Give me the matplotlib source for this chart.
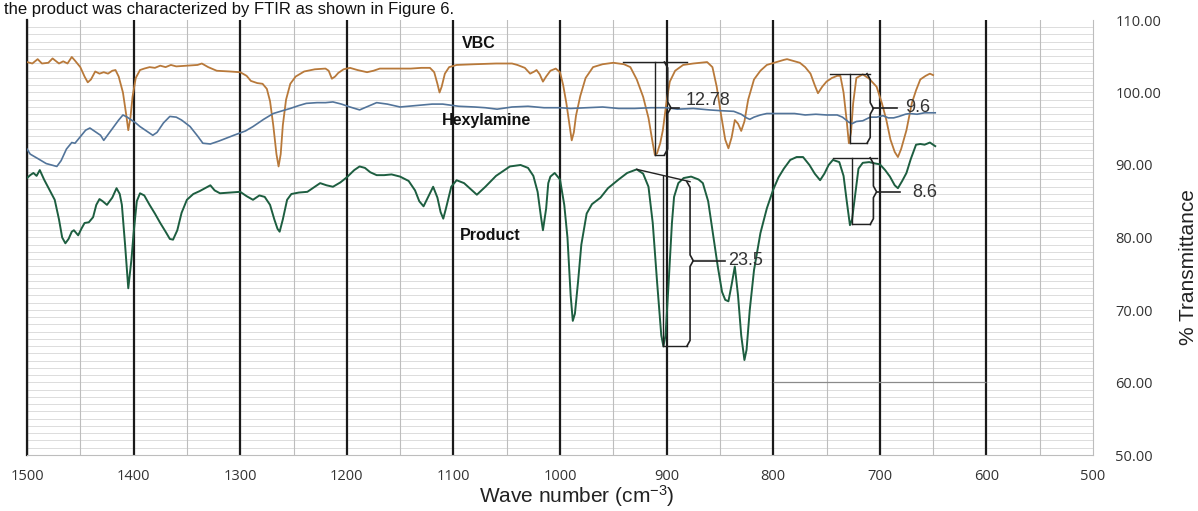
import matplotlib
matplotlib.use("Agg")
import matplotlib.pyplot as plt
import numpy as np

plt.rcParams['font.family'] = ['Liberation Sans', 'DejaVu Sans']
plt.rcParams['mathtext.default'] = 'regular'

#
# DATA
#
vbc_wn = [1500, 1495, 1490, 1486, 1480, 1476, 1470, 1466, 1462, 1458, 1455, 1450, 1446, 1443,
          1440, 1436, 1432, 1428, 1424, 1420, 1417, 1414, 1410, 1407, 1405, 1403, 1401, 1398,
          1394, 1390, 1385, 1380, 1375, 1370, 1365, 1360, 1350, 1340, 1336, 1330, 1322, 1310,
          1300, 1294, 1290, 1284, 1279, 1275, 1272, 1269, 1266, 1264, 1262, 1260, 1257, 1253,
          1248, 1240, 1230, 1220, 1217, 1214, 1211, 1208, 1203, 1197, 1190, 1181, 1175, 1169,
          1160, 1150, 1140, 1130, 1122, 1118, 1115, 1113, 1111, 1108, 1104, 1097, 1080, 1060,
          1045, 1040, 1033, 1028, 1024, 1022, 1019, 1016, 1013, 1009, 1004, 1000, 997, 994,
          991, 989, 987, 985, 981, 976, 969, 960, 950, 940, 934, 928, 922, 917, 913, 911, 909,
          906, 903.5, 900, 897, 892, 884.5, 875, 862, 857, 853, 849, 845, 842, 839, 836, 833,
          830, 827, 823.5, 818, 812, 806, 797, 790, 787, 780, 775, 770, 765, 761, 758, 754,
          750, 745, 740, 737, 734, 731, 729, 727, 725, 722, 716, 710, 703, 698, 694, 690, 686,
          683, 680, 675, 670, 666, 662, 657, 653, 650]
vbc_t = [104.2, 104.0, 104.6, 104.0, 104.1, 104.7, 104.0, 104.3, 104.0, 104.9, 104.4, 103.5, 102.2, 101.4,
         101.8, 102.9, 102.6, 102.8, 102.6, 103.0, 103.1, 102.2, 100.0, 97.0, 94.8, 96.5, 99.4, 102.0,
         103.1, 103.3, 103.5, 103.4, 103.7, 103.5, 103.8, 103.6, 103.7, 103.8, 104.0, 103.5, 103.0, 102.9,
         102.8, 102.3, 101.6, 101.3, 101.2, 100.5, 98.8, 95.5, 91.5, 89.8, 91.5, 95.5, 99.0, 101.2,
         102.2, 102.9, 103.2, 103.3, 103.0, 101.9, 102.2, 102.7, 103.2, 103.4, 103.1, 102.8, 103.0, 103.3,
         103.3, 103.3, 103.3, 103.4, 103.4, 102.8, 101.2, 100.0, 100.8, 102.6, 103.5, 103.8, 103.9, 104.0,
         104.0, 103.8, 103.4, 102.6, 102.9, 103.1, 102.5, 101.5, 102.2, 103.0, 103.3, 102.8, 101.0, 98.5,
         95.5, 93.4, 94.5, 96.8, 99.5, 102.0, 103.5, 103.9, 104.1, 103.9, 103.5, 101.8, 99.4, 96.5, 93.0, 91.4, 91.6,
         93.0, 94.8, 98.8, 101.5, 103.0, 103.8, 104.0, 104.2, 103.5, 100.8, 97.0, 93.5, 92.3, 93.8, 96.2, 95.7,
         94.7, 96.0, 99.0, 101.8, 103.0, 103.8, 104.2, 104.5, 104.6, 104.3, 104.1, 103.5, 102.6, 101.0, 99.9, 100.8,
         101.5, 102.0, 102.3, 102.3, 100.0, 96.0, 93.0, 94.5, 98.5, 102.0, 102.5, 101.9, 100.8, 98.5, 96.3, 93.5, 91.8,
         91.1, 92.2, 94.8, 98.5, 100.3, 101.8, 102.3, 102.6, 102.4]

hex_wn = [1500, 1497, 1490, 1482, 1477, 1472, 1468, 1463, 1458, 1455, 1450, 1445, 1441, 1436,
          1431, 1428, 1424, 1420, 1414, 1410, 1406, 1402, 1398, 1394, 1388, 1382, 1378, 1372,
          1366, 1360, 1355, 1347, 1340, 1335, 1328, 1320, 1306, 1295, 1288, 1278, 1269, 1260,
          1253, 1245, 1238, 1228, 1220, 1213, 1205, 1197, 1188, 1180, 1172, 1162, 1150, 1135,
          1120, 1110, 1095, 1080, 1070, 1059, 1045, 1030, 1015, 1000, 990, 975, 960, 945, 930,
          915, 900, 890, 875, 860, 850, 837, 830, 825, 822, 818, 812, 806, 795, 780, 770, 760,
          750, 740, 735, 729, 726, 722, 716, 709, 703, 697, 692, 687, 682, 676, 672, 665, 658, 648]
hex_t = [92.2, 91.5, 90.9, 90.2, 90.0, 89.8, 90.6, 92.2, 93.1, 93.0, 93.9, 94.8, 95.1, 94.6,
         94.1, 93.4, 94.2, 95.0, 96.2, 96.9, 96.6, 96.2, 95.8, 95.3, 94.7, 94.1, 94.5, 95.8,
         96.7, 96.6, 96.2, 95.3, 94.0, 93.0, 92.9, 93.3, 94.1, 94.7, 95.3, 96.3, 97.1, 97.5,
         97.8, 98.2, 98.5, 98.6, 98.6, 98.7, 98.4, 98.0, 97.6, 98.1, 98.6, 98.4, 98.0, 98.2,
         98.4, 98.4, 98.1, 98.0, 97.9, 97.7, 98.0, 98.1, 97.9, 97.9, 97.8, 97.9, 98.0, 97.8, 97.8,
         97.9, 97.9, 97.7, 97.8, 97.6, 97.5, 97.4, 97.0, 96.5, 96.3, 96.6, 96.9, 97.1, 97.1, 97.1, 96.9, 97.0,
         96.9, 96.9, 96.6, 95.9, 95.7, 96.0, 96.1, 96.6, 96.6, 96.8, 96.5, 96.5, 96.7, 97.0, 97.1, 97.0, 97.2, 97.2]

prod_wn = [1500, 1497, 1494, 1491, 1488, 1484, 1479, 1474, 1470, 1467, 1464, 1461, 1458, 1456,
           1452, 1449, 1446, 1442, 1438, 1435, 1432, 1429, 1425, 1420, 1416, 1413, 1411, 1408,
           1405, 1402, 1400, 1397, 1394, 1390, 1385, 1380, 1375, 1370, 1366, 1363, 1359, 1355,
           1350, 1344, 1338, 1328, 1324, 1319, 1310, 1300, 1294, 1288, 1282, 1277, 1272, 1268,
           1265, 1263, 1260, 1256, 1252, 1245, 1237, 1230, 1225, 1219, 1213, 1206, 1200, 1193,
           1188, 1183, 1178, 1172, 1165, 1158, 1150, 1142, 1136, 1132, 1128, 1124, 1119, 1115,
           1112, 1109.5, 1107, 1102, 1097, 1090, 1084, 1078, 1070, 1060, 1047, 1037, 1030, 1025,
           1021, 1018, 1016, 1013, 1011, 1009, 1005, 1000, 996, 993, 990, 988, 986, 983, 980,
           975, 970, 962, 955, 945, 937, 928, 922, 917, 913, 909, 905, 903, 901, 898, 895, 893,
           889, 884, 877, 870, 866, 861, 856, 852, 848, 845, 842, 839, 836, 833, 830, 827, 825,
           822, 818, 812, 806, 800, 795, 790, 784, 778, 772, 766, 761, 756, 752, 748, 744, 738,
           734, 731, 728, 726, 723, 720, 716, 710, 704, 700, 695, 690.5, 686, 683, 679, 675, 671,
           666, 662, 658, 653, 648]
prod_t = [88.2, 88.6, 88.9, 88.5, 89.3, 88.0, 86.6, 85.2, 82.5, 80.0, 79.2, 79.8, 80.8, 81.0,
          80.3, 81.2, 82.0, 82.1, 82.8, 84.5, 85.3, 85.0, 84.5, 85.5, 86.8, 86.0, 84.5, 79.0,
          73.0, 77.0, 80.6, 85.0, 86.1, 85.8, 84.5, 83.3, 82.0, 80.8, 79.8, 79.7, 81.0, 83.4,
          85.2, 86.0, 86.4, 87.2, 86.5, 86.1, 86.2, 86.3, 85.7, 85.2, 85.8, 85.6, 84.5, 82.5,
          81.2, 80.8, 82.5, 85.2, 86.0, 86.2, 86.3, 87.0, 87.5, 87.2, 87.0, 87.6, 88.3, 89.3,
          89.8, 89.6, 89.0, 88.6, 88.6, 88.7, 88.4, 87.8, 86.5, 85.0, 84.3, 85.5, 87.0, 85.5,
          83.5, 82.6, 84.0, 87.0, 87.9, 87.5, 86.7, 85.9, 87.0, 88.5, 89.8, 90.0, 89.6, 88.5,
          86.3, 83.0, 81.0, 84.0, 87.5, 88.4, 88.9, 88.0, 84.5, 80.0, 72.0, 68.5, 69.5, 74.0, 79.0,
          83.3, 84.6, 85.5, 86.8, 88.0, 88.9, 89.4, 88.8, 87.0, 82.0, 74.0, 66.5, 65.0, 66.5, 74.0, 82.0, 85.6,
          87.5, 88.2, 88.4, 88.0, 87.5, 85.0, 80.0, 76.0, 72.5, 71.4, 71.2, 73.5, 76.0, 72.0, 66.5, 63.1, 64.5,
          70.0, 75.5, 80.6, 84.0, 86.6, 88.3, 89.5, 90.7, 91.1, 91.1, 90.0, 88.8, 87.9, 88.8, 90.0, 90.7, 90.4,
          88.5, 85.0, 81.7, 82.5, 86.0, 89.5, 90.3, 90.4, 90.2, 90.1, 89.3, 88.4, 87.2, 86.8, 87.8, 88.9, 90.8,
          92.8, 92.9, 92.8, 93.1, 92.6]

# peak-depth brackets: label, top line (x0, y0, x1, y1), vertical line x, bottom y,
# brace x, brace tip y, tip end x, text position
ann_labels = ['12.78', '9.6', '8.6', '23.5']
ann_top = [(941, 104.2, 881, 104.2), (747, 102.6, 709, 102.6),
           (744, 91.0, 703, 91.0), (928, 89.4, 878, 87.7)]
ann_vline_x = [911, 728, 726, 903]
ann_bot_y = [91.4, 93.0, 81.8, 65.0]
ann_brace_x = [899, 709, 706, 878]
ann_tip_y = [97.9, 97.8, 86.3, 76.8]
ann_tip_x = [888, 684, 681, 845]
ann_text_xy = [(882, 98.9), (676, 98.0), (670, 86.2), (842, 76.8)]

series_names = ['VBC', 'Hexylamine', 'Product']
series_colors = ['#b8793a', '#52749a', '#1d5e40']
series_label_xy = [(1092, 106.7), (1111, 96.2), (1094, 80.3)]

x_ticks = [1500, 1400, 1300, 1200, 1100, 1000, 900, 800, 700, 600, 500]
y_ticks = [50, 60, 70, 80, 90, 100, 110]


def draw_brace(ax, xb, yt, yb, ytip, w=3.0, d=0.8):
    xs = [xb + w, xb, xb, xb - w, xb, xb, xb + w]
    ys = [yt, yt - d, ytip + d, ytip, ytip - d, yb + d, yb]
    ax.plot(xs, ys, color='#222222', lw=1.2, zorder=4)


fig = plt.figure(figsize=(11.98, 5.11), dpi=100)
ax = fig.add_axes([27 / 1198, 1 - 455 / 511, (1093 - 27) / 1198, (455 - 20) / 511])

# grid
for yv in range(51, 110):
    ax.axhline(yv, color='#dcdcdc', lw=0.7, zorder=0)
for xv in range(550, 1500, 100):
    ax.axvline(xv, color='#bdbdbd', lw=0.8, zorder=0)
for xv in x_ticks[:-1]:
    ax.axvline(xv, color='#1a1a1a', lw=1.6, zorder=1)
ax.hlines(60, 600, 800, color='#8a8a8a', lw=0.9, zorder=1)

ax.plot(vbc_wn, vbc_t, color=series_colors[0], lw=1.3, zorder=3)
ax.plot(hex_wn, hex_t, color=series_colors[1], lw=1.2, zorder=3)
ax.plot(prod_wn, prod_t, color=series_colors[2], lw=1.4, zorder=3)

for name, (tx, ty) in zip(series_names, series_label_xy):
    ax.text(tx, ty, name, fontsize=11.5, fontweight='bold', color='#111111',
            ha='left', va='center', zorder=5)

for i, lab in enumerate(ann_labels):
    x0, y0, x1, y1 = ann_top[i]
    ax.plot([x0, x1], [y0, y1], color='#222222', lw=1.0, zorder=4)
    vx = ann_vline_x[i]
    ytop_v = y0 + (y1 - y0) * (x0 - vx) / (x0 - x1)
    ax.plot([vx, vx], [ytop_v, ann_bot_y[i]], color='#222222', lw=1.0, zorder=4)
    bx = ann_brace_x[i]
    ax.plot([vx, bx + 3.0], [ann_bot_y[i], ann_bot_y[i]], color='#222222', lw=1.0, zorder=4)
    ytop_b = y0 + (y1 - y0) * (x0 - bx) / (x0 - x1)
    draw_brace(ax, bx, ytop_b, ann_bot_y[i], ann_tip_y[i])
    ax.plot([bx - 3.0, ann_tip_x[i]], [ann_tip_y[i], ann_tip_y[i]], color='#222222', lw=1.2, zorder=4)
    ax.text(ann_text_xy[i][0], ann_text_xy[i][1], lab, fontsize=13, color='#333333',
            ha='left', va='center', zorder=5)

ax.set_xlim(1500, 500)
ax.set_ylim(50, 110)
ax.set_xticks(x_ticks)
ax.set_yticks(y_ticks)
ax.set_yticklabels([f"{v:.2f}" for v in y_ticks])
ax.yaxis.tick_right()
ax.tick_params(axis='y', length=0, pad=16, labelsize=10.5, labelcolor='#333333')
ax.tick_params(axis='x', length=0, pad=10, labelsize=10.5, labelcolor='#333333')
for lbl in ax.get_xticklabels() + ax.get_yticklabels():
    lbl.set_family(['Open Sans', 'DejaVu Sans'])

ax.spines['top'].set_visible(False)
ax.spines['left'].set_color('#1a1a1a')
ax.spines['left'].set_linewidth(1.6)
ax.spines['right'].set_color('#bdbdbd')
ax.spines['right'].set_linewidth(0.8)
ax.spines['bottom'].set_color('#bdbdbd')
ax.spines['bottom'].set_linewidth(0.8)

fig.text(577 / 1198, 1 - 496 / 511, r'Wave number (cm$^{-3}$)', fontsize=15,
         ha='center', va='center', color='#222222')
fig.text(1188 / 1198, 1 - 267 / 511, '% Transmittance', fontsize=15, rotation=90,
         ha='center', va='center', color='#222222')
fig.text(4 / 1198, 1 - 14 / 511, 'the product was characterized by FTIR as shown in Figure 6.',
         fontsize=12, ha='left', va='baseline', color='#111111')

fig.savefig('out.png', dpi=100)
